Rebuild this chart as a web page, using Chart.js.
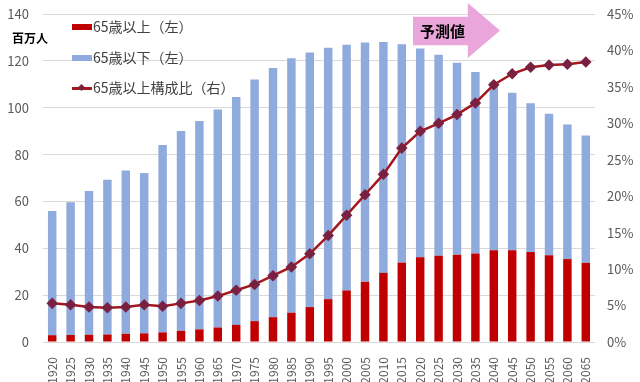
<!DOCTYPE html>
<html><head><meta charset="utf-8">
<script src="https://cdn.jsdelivr.net/npm/chart.js@4.4.1/dist/chart.umd.min.js"></script>
<style>
html,body{margin:0;padding:0;background:#fff;}
#wrap{position:relative;width:640px;height:382px;font-family:"Noto Sans CJK JP","Noto Sans",sans-serif;}
canvas{position:absolute;left:0;top:0;}
.unit{position:absolute;left:12px;top:29px;font-size:12px;font-weight:bold;color:#000;}
.leg{position:absolute;left:72px;font-size:14px;color:#404040;line-height:18px;white-space:nowrap;}
.leg .sw{display:inline-block;width:20px;height:6px;vertical-align:middle;margin-right:1px;position:relative;top:-1px;}
.leg .ln{display:inline-block;width:20px;height:18px;vertical-align:middle;position:relative;margin-right:1px;top:-1px;}
.leg .ln:before{content:"";position:absolute;left:0;right:0;top:8px;height:2.5px;background:#A3171E;}
.leg .ln:after{content:"";position:absolute;left:7px;top:6px;width:5px;height:5px;background:#7A2040;transform:rotate(45deg);}
#arrow{position:absolute;left:413px;top:3px;width:87px;height:55px;background:#EAA6DA;
clip-path:polygon(0 25%,63% 25%,63% 0,100% 50%,63% 100%,63% 77%,0 77%);}
#arrowtxt{position:absolute;left:420px;top:20px;font-size:15px;font-weight:bold;color:#000;}
</style></head>
<body><div id="wrap">
<canvas id="c" width="640" height="382"></canvas>
<div id="arrow"></div><div id="arrowtxt">予測値</div>
<div class="unit">百万人</div>
<div class="leg" style="top:17px"><span class="sw" style="background:#C00000"></span>65歳以上（左）</div>
<div class="leg" style="top:48px"><span class="sw" style="background:#8FAADC"></span>65歳以下（左）</div>
<div class="leg" style="top:78px"><span class="ln"></span>65歳以上構成比（右）</div>
</div>
<script>
const years = ["1920","1925","1930","1935","1940","1945","1950","1955","1960","1965","1970","1975","1980","1985","1990","1995","2000","2005","2010","2015","2020","2025","2030","2035","2040","2045","2050","2055","2060","2065"];
const over65 = [2.9,3.0,3.1,3.2,3.5,3.7,4.1,4.8,5.4,6.2,7.3,8.9,10.6,12.5,14.9,18.3,22.0,25.7,29.5,33.9,36.2,36.8,37.2,37.8,39.2,39.2,38.4,37.0,35.4,33.8];
const under65 = [53.0,56.7,61.4,66.0,69.7,68.4,80.0,85.3,88.9,93.0,97.3,103.1,106.4,108.6,108.7,107.3,104.9,102.1,98.6,93.2,89.1,85.8,82.0,77.4,71.7,67.2,63.5,60.4,57.4,54.3];
const ratio65 = [0.053,0.051,0.048,0.047,0.048,0.051,0.049,0.053,0.057,0.063,0.071,0.079,0.091,0.103,0.121,0.146,0.174,0.202,0.230,0.266,0.289,0.300,0.312,0.328,0.353,0.368,0.377,0.380,0.381,0.384];
const leftTicks = [0,20,40,60,80,100,120,140];

const tickFont = {family:"'Noto Sans CJK JP','Noto Sans',sans-serif", size:13};
const xFont = {family:"'Noto Sans CJK JP','Noto Sans',sans-serif", size:12};
new Chart(document.getElementById('c'), {
  data: {
    labels: years,
    datasets: [
      {type:'line', label:'65歳以上構成比（右）', data: ratio65, yAxisID:'y1', order:0,
       borderColor:'#A3171E', borderWidth:2.5, pointStyle:'rectRot', pointRadius:4,
       pointBackgroundColor:'#7A2040', pointBorderColor:'#7A2040', tension:0},
      {type:'bar', label:'65歳以上（左）', data: over65, yAxisID:'y', order:1,
       backgroundColor:'#C00000', barPercentage:0.46, categoryPercentage:1, stack:'s'},
      {type:'bar', label:'65歳以下（左）', data: under65, yAxisID:'y', order:1,
       backgroundColor:'#8FAADC', barPercentage:0.46, categoryPercentage:1, stack:'s'}
    ]
  },
  options: {
    responsive:false, animation:false,
    layout:{padding:{top:14,bottom:0,left:0,right:0}},
    plugins:{legend:{display:false}, tooltip:{enabled:false}},
    scales:{
      x:{stacked:true, grid:{display:false}, border:{display:false},
         ticks:{minRotation:90,maxRotation:90,autoSkip:false,color:'#595959',font:xFont,padding:7},
         afterFit:s=>{s.height=40;}},
      y:{stacked:true, min:0, max:140, position:'left',
         afterBuildTicks:s=>{s.ticks=leftTicks.map(v=>({value:v}));},
         grid:{color:'#D9D9D9',drawTicks:false,lineWidth:1}, border:{display:false},
         ticks:{color:'#595959',font:tickFont,padding:14},
         afterFit:s=>{s.width=43; s.paddingTop=0; s.paddingBottom=0;}},
      y1:{min:0, max:0.45, position:'right',
         grid:{display:false,drawTicks:false}, border:{display:false},
         ticks:{stepSize:0.05,color:'#595959',font:tickFont,padding:12,
           callback:v=>Math.round(v*100)+'%'},
         afterFit:s=>{s.width=45; s.paddingTop=0; s.paddingBottom=0;}}
    }
  }
});
</script>
</body></html>
